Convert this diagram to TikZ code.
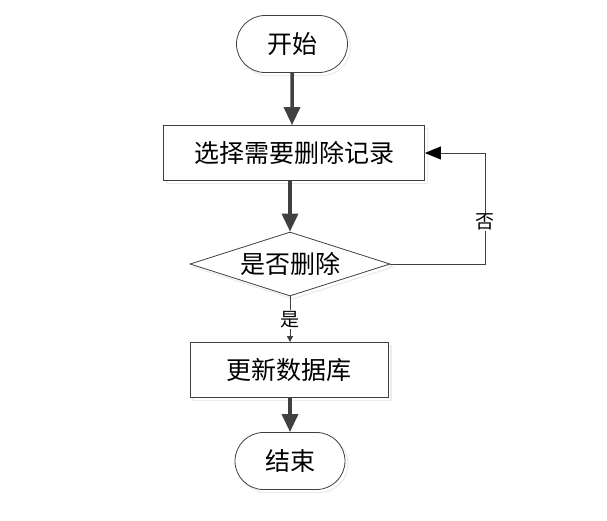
\documentclass[tikz,border=0pt]{standalone}
\usepackage{fontspec}
\setmainfont{Noto Sans CJK SC}
\usetikzlibrary{arrows.meta,shapes.geometric,shapes.misc,shadows}
\begin{document}
\begin{tikzpicture}[x=1pt,y=-1pt,
  base/.style={draw=black!75,line width=0.8pt,fill=white,font=\fontsize{25}{28}\selectfont,
    drop shadow={shadow xshift=3pt,shadow yshift=-3pt,fill=none,draw=black!15,line width=1.2pt}},
  term/.style={base,rounded rectangle,minimum width=111pt,minimum height=57pt,inner sep=0pt},
  proc/.style={base,rectangle,minimum height=55pt,inner sep=0pt},
  dec/.style={base,diamond,minimum width=200pt,minimum height=64pt,inner sep=0pt,aspect=3},
  flow/.style={draw=black!75,line width=3.5pt,-{Triangle[length=18pt,width=16pt]}},
  thin/.style={draw=black!75,line width=1pt},
  lbl/.style={font=\fontsize{19}{21}\selectfont,fill=white,inner sep=1pt}]
\useasboundingbox (0,0) rectangle (607,520);
\node[term] (start) at (292,44) {开始};
\node[proc,minimum width=261pt] (sel) at (294,153) {选择需要删除记录};
\node[dec] (ask) at (290,264) {};
\node[font=\fontsize{25}{28}\selectfont] at (ask) {是否删除};
\node[proc,minimum width=198pt] (upd) at (289,370) {更新数据库};
\node[term,minimum width=110pt] (stop) at (290,461) {结束};
\coordinate (c1) at (485,264);
\coordinate (c2) at (485,153);
\draw[flow] (start) -- (start|-sel.north);
\draw[flow] (sel.south-|ask) -- (ask.north);
\draw[thin,-{Triangle[length=6pt,width=6pt]}] (ask.south) -- node[lbl,pos=0.5]{是} (ask.south|-upd.north);
\draw[flow] (upd.south-|stop) -- (stop.north);
\draw[thin,-{Triangle[length=16pt,width=13pt,fill=black,color=black]}] (ask.east) -- (c1) -- node[lbl,pos=0.38]{否} (c2) -- (sel.east);
\end{tikzpicture}
\end{document}
